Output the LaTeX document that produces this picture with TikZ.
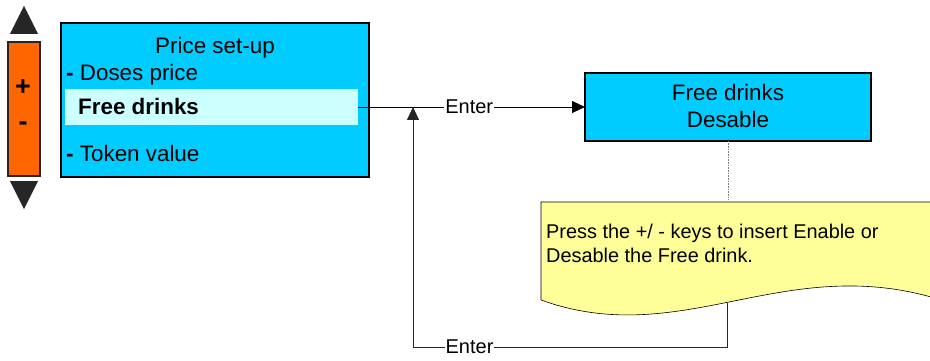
\documentclass[tikz,border=0pt]{standalone}
\usepackage{fontspec}
\setmainfont{Liberation Sans}
\usetikzlibrary{arrows.meta}
\definecolor{cyanbox}{HTML}{00CCFF}
\definecolor{lightcyan}{HTML}{CCFFFF}
\definecolor{notefill}{HTML}{FFFF99}
\definecolor{keyorange}{HTML}{FF6600}
\definecolor{darkgr}{HTML}{262626}
\tikzset{
  panel/.style={draw=black, line width=2.4pt, fill=cyanbox, inner sep=0pt, outer sep=0pt, anchor=north west},
  hilite/.style={fill=lightcyan, draw=none, inner sep=0pt, outer sep=0pt, anchor=north west},
  bigtxt/.style={inner sep=0pt, font=\fontsize{22.4}{24}\selectfont},
  smalltxt/.style={inner sep=0pt, font=\fontsize{19.9}{24}\selectfont},
  lbl/.style={fill=white, inner sep=1pt, font=\fontsize{20}{24}\selectfont},
  conn/.style={line width=0.8pt, draw=black},
  tip/.style={-{Triangle[length=13pt,width=12pt]}}
}
\begin{document}
\begin{tikzpicture}[x=1pt,y=-1pt]
\useasboundingbox (0,0) rectangle (930,361);
% key pad
\fill[darkgr] (10,34) -- (38,34) -- (24,6) -- cycle;
\node (keys) [draw=darkgr, line width=1.8pt, fill=keyorange, minimum width=32pt, minimum height=134pt, inner sep=0pt, anchor=north west] at (7,41) {};
\fill[darkgr] (10,181) -- (38,181) -- (24,209) -- cycle;
\node (plus) [inner sep=0pt, font=\fontsize{27}{28}\selectfont\bfseries] at (23,88) {+};
\node (minus) [inner sep=0pt, font=\fontsize{27}{28}\selectfont\bfseries] at (23,126) {-};
% main panel
\node (main) [panel, minimum width=308pt, minimum height=154pt] at (61,23) {};
\node (hl) [hilite, minimum width=293pt, minimum height=36pt] at (65,89) {};
\node (title) [bigtxt, anchor=base] at (215,54) {Price set-up};
\node (doses) [bigtxt, anchor=base west] at (66,81) {\textbf{-} Doses price};
\node (free) [bigtxt, anchor=base west] at (78,114) {\textbf{Free drinks}};
\node (token) [bigtxt, anchor=base west] at (66,161) {\textbf{-} Token value};
% right panel
\node (fd) [panel, minimum width=286pt, minimum height=68pt] at (585,73) {};
\node (fdt1) [bigtxt, anchor=base] at (728,101) {Free drinks};
\node (fdt2) [bigtxt, anchor=base] at (728,128) {Desable};
% note
\draw[line width=0.6pt, fill=notefill] (541,202) -- (931,202) -- (931,297)
  .. controls (780,255) and (680,350) .. (541,300) -- cycle;
\node (notetxt1) [smalltxt, anchor=base west] at (546,238) {Press the +/ - keys to insert Enable or};
\node (notetxt2) [smalltxt, anchor=base west] at (546,262) {Desable the Free drink.};
\coordinate (notetop) at (728,199);
\coordinate (notebot) at (727,303);
\draw[gray, densely dotted, line width=0.6pt] (fd.south -| notetop) -- (notetop);
% connectors
\coordinate (hlr) at (358,107);
\coordinate (join) at (413,107);
\draw[conn, tip] (hlr) -- node[lbl, pos=0.49] {Enter} (fd.west |- hlr);
\coordinate (c1) at (727,347);
\coordinate (c2) at (413,347);
\draw[conn, draw=darkgr, tip] (notebot) -- (c1) -- node[lbl, pos=0.82] {Enter} (c2) -- (join);
\end{tikzpicture}
\end{document}
